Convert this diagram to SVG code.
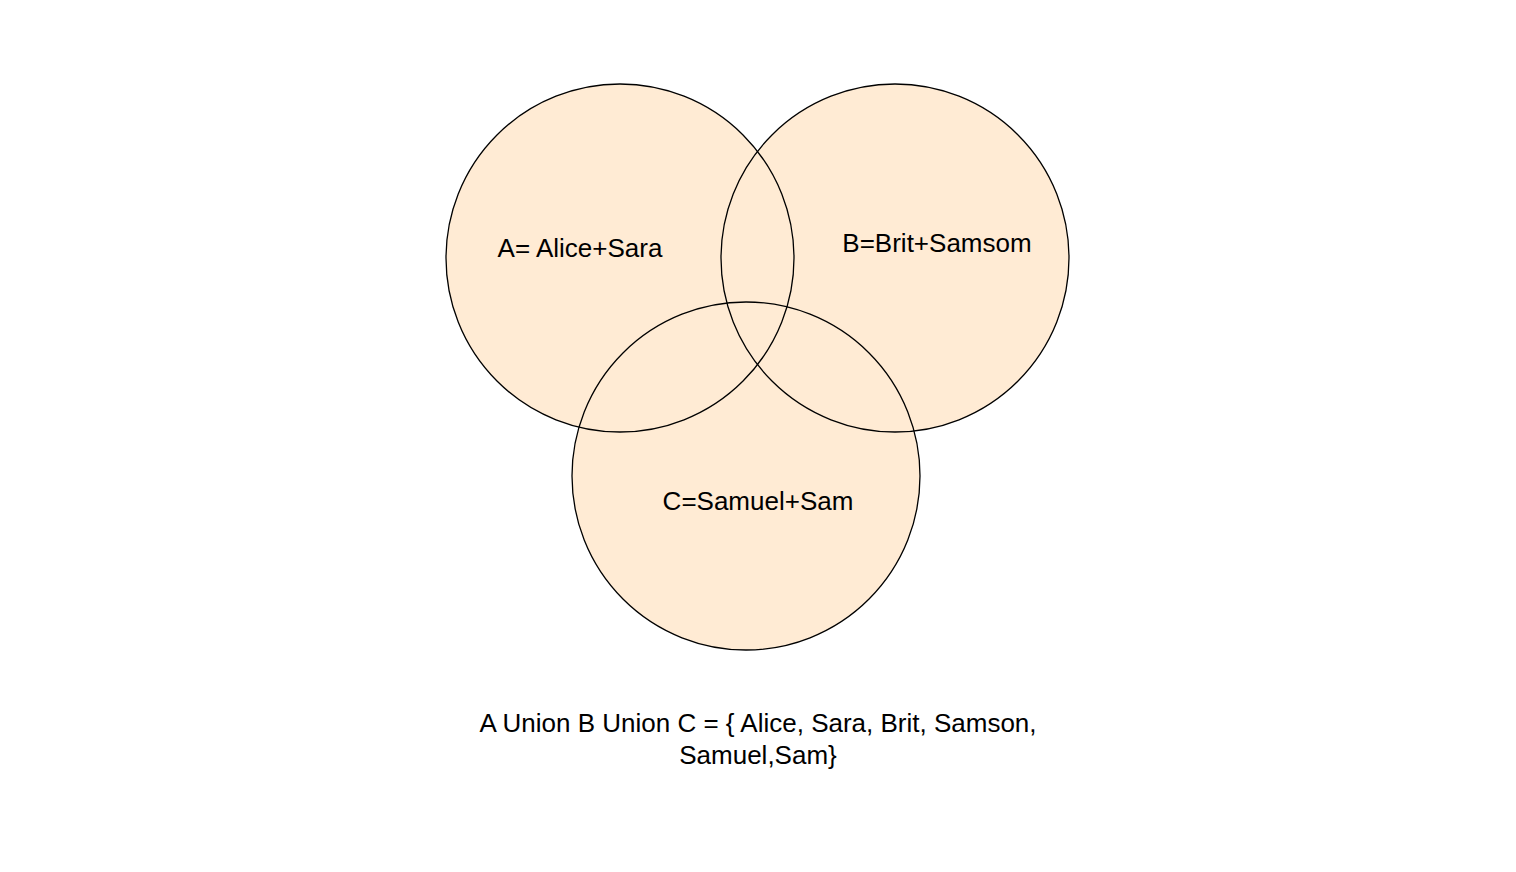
<svg xmlns="http://www.w3.org/2000/svg" width="1516" height="872" viewBox="0 0 1516 872">
<style>
.fill{fill:#FFEBD4;stroke:none}
.edge{fill:none;stroke:#000;stroke-width:1.3}
text{font-family:"Liberation Sans",Arial,sans-serif;font-size:26px;fill:#000;text-anchor:middle}
</style>
<rect width="1516" height="872" fill="#fff"/>
<g id="fills">
<circle class="fill" cx="620" cy="258" r="174"/>
<circle class="fill" cx="895" cy="258" r="174"/>
<circle class="fill" cx="746" cy="476" r="174"/>
</g>
<g id="setA"><circle class="edge" cx="620" cy="258" r="174"/><text x="580" y="257">A= Alice+Sara</text></g>
<g id="setB"><circle class="edge" cx="895" cy="258" r="174"/><text x="937" y="252">B=Brit+Samsom</text></g>
<g id="setC"><circle class="edge" cx="746" cy="476" r="174"/><text x="758" y="510">C=Samuel+Sam</text></g>
<g id="union"><text x="758" y="732">A Union B Union C = { Alice, Sara, Brit, Samson,</text><text x="758" y="764">Samuel,Sam}</text></g>
<g id="connectors"></g>
</svg>
